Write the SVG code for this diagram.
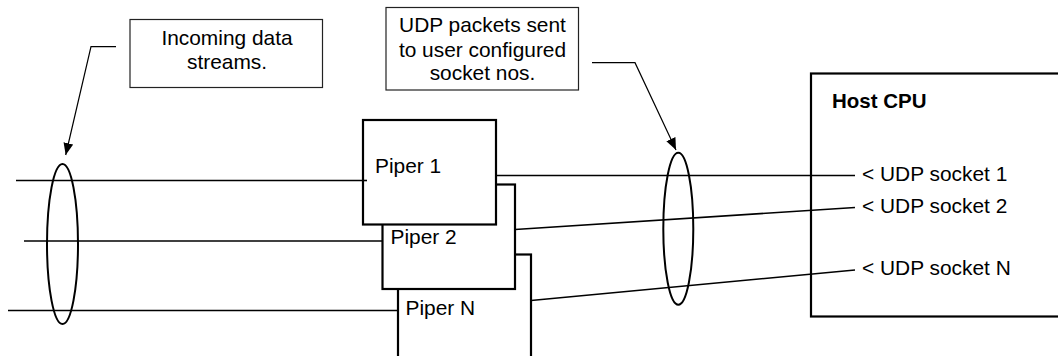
<svg xmlns="http://www.w3.org/2000/svg" width="1058" height="356" viewBox="0 0 1058 356">
  <style>
    .box { fill: #fff; stroke: #000; stroke-width: 2.2; }
    .note { fill: #fff; stroke: #222; stroke-width: 1.2; }
    .wire { fill: none; stroke: #000; stroke-width: 1.6; }
    .ring { fill: none; stroke: #000; stroke-width: 2; }
    .lead { fill: none; stroke: #000; stroke-width: 1.2; }
    text { font-family: "Liberation Sans", Arial, sans-serif; font-size: 20.9px; fill: #000; }
    .mid { text-anchor: middle; }
    .bold { font-weight: bold; font-size: 20.5px; }
  </style>
  <defs>
    <marker id="arrow" viewBox="0 0 12 10" refX="12" refY="5" markerWidth="12" markerHeight="10" markerUnits="userSpaceOnUse" orient="auto">
      <path d="M0,0 L12,5 L0,10 Z" fill="#000"/>
    </marker>
  </defs>
  <rect width="1058" height="356" fill="#fff"/>

  <!-- Host CPU -->
  <g id="host-cpu">
    <rect class="box" x="811" y="73.5" width="260" height="243"/>
    <text class="bold" x="832" y="108">Host CPU</text>
    <text x="862" y="180.5">&lt; UDP socket 1</text>
    <text x="862" y="213">&lt; UDP socket 2</text>
    <text x="862" y="275">&lt; UDP socket N</text>
  </g>

  <!-- Connectors -->
  <g id="connectors">
    <!-- incoming streams -->
    <line class="wire" x1="16" y1="180.5" x2="367" y2="180.5"/>
    <line class="wire" x1="24" y1="241" x2="382" y2="241"/>
    <line class="wire" x1="8" y1="310.5" x2="398" y2="310.5"/>
    <!-- UDP outputs -->
    <line class="wire" x1="496" y1="175.5" x2="855" y2="175.5"/>
    <line class="wire" x1="515" y1="229.5" x2="855" y2="207.5"/>
    <line class="wire" x1="531" y1="300.5" x2="855" y2="270"/>
    <!-- bundle rings -->
    <ellipse class="ring" cx="62.5" cy="244" rx="15.5" ry="80"/>
    <ellipse class="ring" cx="678.3" cy="228.7" rx="15" ry="76"/>
    <!-- callout leaders -->
    <polyline class="lead" points="116,46.7 91,46.7 65.7,155" marker-end="url(#arrow)"/>
    <polyline class="lead" points="592,62.7 635,62.7 676,150" marker-end="url(#arrow)"/>
  </g>

  <!-- Pipers, stacked back to front -->
  <g id="piper-n">
    <rect class="box" x="398" y="254.5" width="133" height="120"/>
    <text x="405.5" y="315">Piper N</text>
  </g>
  <g id="piper-2">
    <rect class="box" x="382.5" y="184.5" width="132.5" height="104.5"/>
    <text x="390.5" y="244">Piper 2</text>
  </g>
  <g id="piper-1">
    <rect class="box" x="363" y="120" width="133" height="104.5"/>
    <line class="wire" x1="363" y1="180.5" x2="367" y2="180.5"/>
    <text x="375" y="173">Piper 1</text>
  </g>

  <!-- Callouts -->
  <g id="note-incoming">
    <rect class="note" x="130" y="19.5" width="192.5" height="68"/>
    <text class="mid" x="227" y="45">Incoming data</text>
    <text class="mid" x="227" y="68.5">streams.</text>
  </g>
  <g id="note-udp">
    <rect class="note" x="386" y="7.5" width="192.5" height="82.5"/>
    <text class="mid" x="482.5" y="32">UDP packets sent</text>
    <text class="mid" x="482.5" y="56.5">to user configured</text>
    <text class="mid" x="482.5" y="80">socket nos.</text>
  </g>
</svg>
